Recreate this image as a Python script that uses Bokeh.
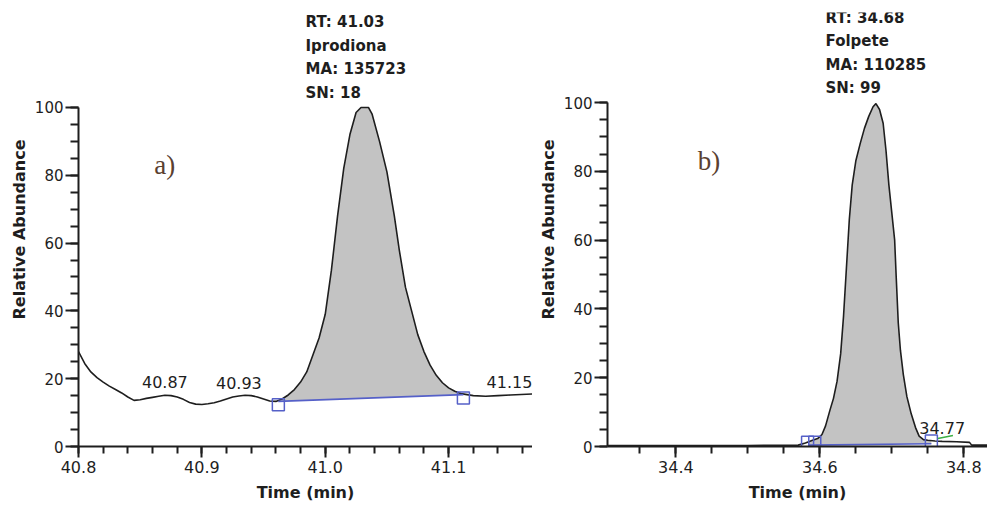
import numpy as np
from bokeh.plotting import figure
from bokeh.layouts import row
from bokeh.models import Label, SingleIntervalTicker, PrintfTickFormatter, LinearAxis, FixedTicker
from bokeh.embed import file_html
from bokeh.resources import INLINE

# ---------------- data: panel a (Iprodiona) ----------------
time_a = [40.800, 40.805, 40.810, 40.815, 40.820, 40.825, 40.830, 40.835, 40.840, 40.845,
          40.850, 40.855, 40.860, 40.865, 40.870, 40.875, 40.880, 40.885, 40.890, 40.895,
          40.900, 40.905, 40.910, 40.915, 40.920, 40.925, 40.930, 40.935, 40.940, 40.945,
          40.950, 40.955, 40.960, 40.965, 40.970, 40.975, 40.980, 40.985, 40.990, 40.995,
          41.000, 41.005, 41.010, 41.015, 41.020, 41.025, 41.029, 41.035, 41.038, 41.044,
          41.050, 41.056, 41.060, 41.065, 41.070, 41.075, 41.080, 41.085, 41.090, 41.095,
          41.100, 41.105, 41.110, 41.115, 41.120, 41.130, 41.140, 41.150, 41.168]
abund_a = [28.0, 24.5, 22.0, 20.3, 19.0, 17.8, 16.8, 15.8, 14.6, 13.6,
           13.8, 14.2, 14.5, 14.8, 15.1, 15.0, 14.6, 13.9, 13.0, 12.5,
           12.4, 12.6, 12.9, 13.4, 14.0, 14.6, 14.9, 15.1, 15.0, 14.6,
           14.0, 13.4, 13.3, 14.0, 15.2, 16.8, 19.0, 22.0, 27.0, 32.0,
           39.0, 52.0, 68.0, 82.0, 92.0, 98.5, 100.0, 100.0, 98.0, 90.0,
           81.0, 68.0, 58.0, 47.0, 40.0, 33.0, 28.0, 24.0, 21.0, 18.8,
           17.3, 16.3, 15.6, 15.3, 15.0, 14.8, 15.0, 15.2, 15.5]
base_a_t = [40.962, 41.112]
base_a_v = [13.3, 15.3]
mark_a_v = [12.3, 14.3]
peaks_a = [40.87, 40.93, 41.15]
info_a = ["RT: 41.03", "Iprodiona", "MA: 135723", "SN: 18"]

# ---------------- data: panel b (Folpete) ----------------
time_b = [34.305, 34.400, 34.500, 34.570, 34.580, 34.590, 34.597, 34.603, 34.608, 34.614,
          34.619, 34.624, 34.629, 34.633, 34.637, 34.641, 34.645, 34.650, 34.656, 34.662,
          34.668, 34.674, 34.678, 34.683, 34.688, 34.692, 34.696, 34.700, 34.704, 34.706,
          34.709, 34.712, 34.716, 34.721, 34.727, 34.733, 34.738, 34.744, 34.750, 34.760,
          34.770, 34.790, 34.808, 34.811, 34.833]
abund_b = [0.3, 0.3, 0.3, 0.4, 1.0, 1.8, 2.3, 3.5, 6.0, 10.5,
           14.0, 19.0, 27.0, 38.0, 52.0, 66.0, 76.0, 83.0, 88.0, 92.5,
           96.0, 98.8, 99.7, 98.0, 94.0, 86.0, 76.0, 68.0, 60.0, 50.0,
           36.0, 28.0, 21.0, 14.5, 9.5, 5.5, 3.0, 2.0, 1.8, 1.6,
           1.5, 1.4, 1.2, 0.4, 0.4]
base_b_t = [34.585, 34.755]
base_b_v = [0.4, 0.8]
mark_b_t = [34.583, 34.593, 34.755]
mark_b_v = [1.2, 1.2, 1.6]
green_b_t = [34.764, 34.785]
green_b_v = [2.3, 3.2]
peaks_b = [34.77]
info_b = ["RT: 34.68", "Folpete", "MA: 110285", "SN: 99"]

FONT = "DejaVu Sans"
BLUE = "#5560c8"
GRAY = "#c3c3c3"
INK = "#1e1e1e"
H = 509
TOP = 12
BOTTOM = 63


def style(p, x_interval, x_minor):
    p.background_fill_color = "white"
    p.border_fill_color = "white"
    p.outline_line_color = None
    p.xgrid.grid_line_color = None
    p.ygrid.grid_line_color = None
    p.xaxis.ticker = SingleIntervalTicker(interval=x_interval, num_minor_ticks=x_minor)
    p.yaxis.ticker = SingleIntervalTicker(interval=20, num_minor_ticks=4)
    p.yaxis.bounds = (0, 100)
    p.xaxis.formatter = PrintfTickFormatter(format="%.1f")
    for ax in (p.xaxis, p.yaxis):
        ax.axis_line_width = 2
        ax.axis_line_color = INK
        ax.major_tick_line_width = 2
        ax.minor_tick_line_width = 2
        ax.major_tick_line_color = INK
        ax.minor_tick_line_color = INK
        ax.major_tick_in = 0
        ax.minor_tick_in = 0
        ax.major_label_text_font = FONT
        ax.major_label_text_color = INK
    p.xaxis.major_label_text_font_size = "16px"
    p.yaxis.major_label_text_font_size = "15px"
    p.xaxis.major_tick_out = 11
    p.xaxis.minor_tick_out = 7
    p.yaxis.major_tick_out = 13
    p.yaxis.minor_tick_out = 8
    p.xaxis.major_label_standoff = 3
    p.yaxis.major_label_standoff = 2
    p.yaxis.axis_label = "Relative Abundance"
    p.yaxis.axis_label_text_font = FONT
    p.yaxis.axis_label_text_font_size = "16px"
    p.yaxis.axis_label_text_font_style = "bold"
    p.yaxis.axis_label_text_color = INK
    p.yaxis.axis_label_standoff = 3


def panel(t, v, bt, bv, mt, mv, peaks, info, xr, y_top, x_interval, x_minor, letter,
          width, left, right, info_left_px, xtitle_t, title_standoff):
    p = figure(width=width, height=H, x_range=xr, y_range=(0, y_top),
               min_border_left=left, min_border_right=right,
               min_border_top=TOP, min_border_bottom=BOTTOM,
               output_backend="svg", toolbar_location=None)
    style(p, x_interval, x_minor)
    fh = H - TOP - BOTTOM
    fw = width - left - right
    ppu_y = fh / float(y_top)
    ppu_x = fw / (xr[1] - xr[0])

    t = np.array(t)
    v = np.array(v)
    # shaded peak area between trace and baseline
    inside = (t > bt[0]) & (t < bt[1])
    ft = np.concatenate([[bt[0]], t[inside], [bt[1]]])
    fv = np.interp(ft, t, v)
    fb = np.interp(ft, bt, bv)
    p.varea(x=ft, y1=fb, y2=fv, fill_color=GRAY)
    p.line(t, v, line_color=INK, line_width=1.6)
    p.line(bt, bv, line_color=BLUE, line_width=1.6)
    p.scatter(mt, mv, marker="square", size=12, fill_color=None,
              line_color=BLUE, line_width=1.5)

    # peak labels (nudged inward if they would touch the frame edge)
    for pk in peaks:
        yv = float(np.interp(pk, t, v)) + 13 / ppu_y
        sx = (pk - xr[0]) * ppu_x
        dx = min(0.0, fw - 4 - (sx + 19))
        p.add_layout(Label(x=pk, y=yv, x_offset=dx, text=f"{pk:.2f}", text_align="center",
                           text_baseline="middle", text_font=FONT,
                           text_font_size="16px", text_color=INK))
    # info block above the peak
    x_info = xr[0] + info_left_px / ppu_x
    for i, s in enumerate(info):
        yv = 100 + (85 - 23.5 * i) / ppu_y
        p.add_layout(Label(x=x_info, y=yv, text=s, text_align="left",
                           text_baseline="middle", text_font=FONT,
                           text_font_size="15px", text_font_style="bold",
                           text_color=INK))
    # panel letter
    p.add_layout(Label(x=letter[1], y=83, text=letter[0], text_align="center",
                       text_baseline="middle", text_font="Liberation Serif",
                       text_font_size="27px", text_color="#5a4030"))
    # x-axis title, centred where the original puts it
    half = min(xtitle_t - xr[0], xr[1] - xtitle_t)
    xt = LinearAxis(ticker=FixedTicker(ticks=[]), bounds=(xtitle_t - half, xtitle_t + half),
                    axis_label="Time (min)", axis_line_color=None,
                    major_tick_out=0, minor_tick_out=0, major_tick_in=0, minor_tick_in=0,
                    major_label_text_font_size="0px", major_label_standoff=0,
                    axis_label_standoff=title_standoff, axis_label_text_font=FONT,
                    axis_label_text_font_size="16px", axis_label_text_font_style="bold",
                    axis_label_text_color=INK)
    p.add_layout(xt, "below")
    return p


pa = panel(time_a, abund_a, base_a_t, base_a_v, base_a_t, mark_a_v, peaks_a, info_a,
           (40.8, 41.168), 128.0, 0.1, 5, ("a)", 40.870),
           532, 78, 0, 227, 41.039, 7)

pb = panel(time_b, abund_b, base_b_t, base_b_v, mark_b_t, mark_b_v, peaks_b, info_b,
           (34.305, 34.833), 126.2, 0.2, 4, ("b)", 34.446),
           455, 75, 0, 218, 34.682, 7)
pb.line(green_b_t, green_b_v, line_color="#3cb043", line_width=1.5)

layout = row(pa, pb)
open("out.html", "w").write(file_html(layout, INLINE))
